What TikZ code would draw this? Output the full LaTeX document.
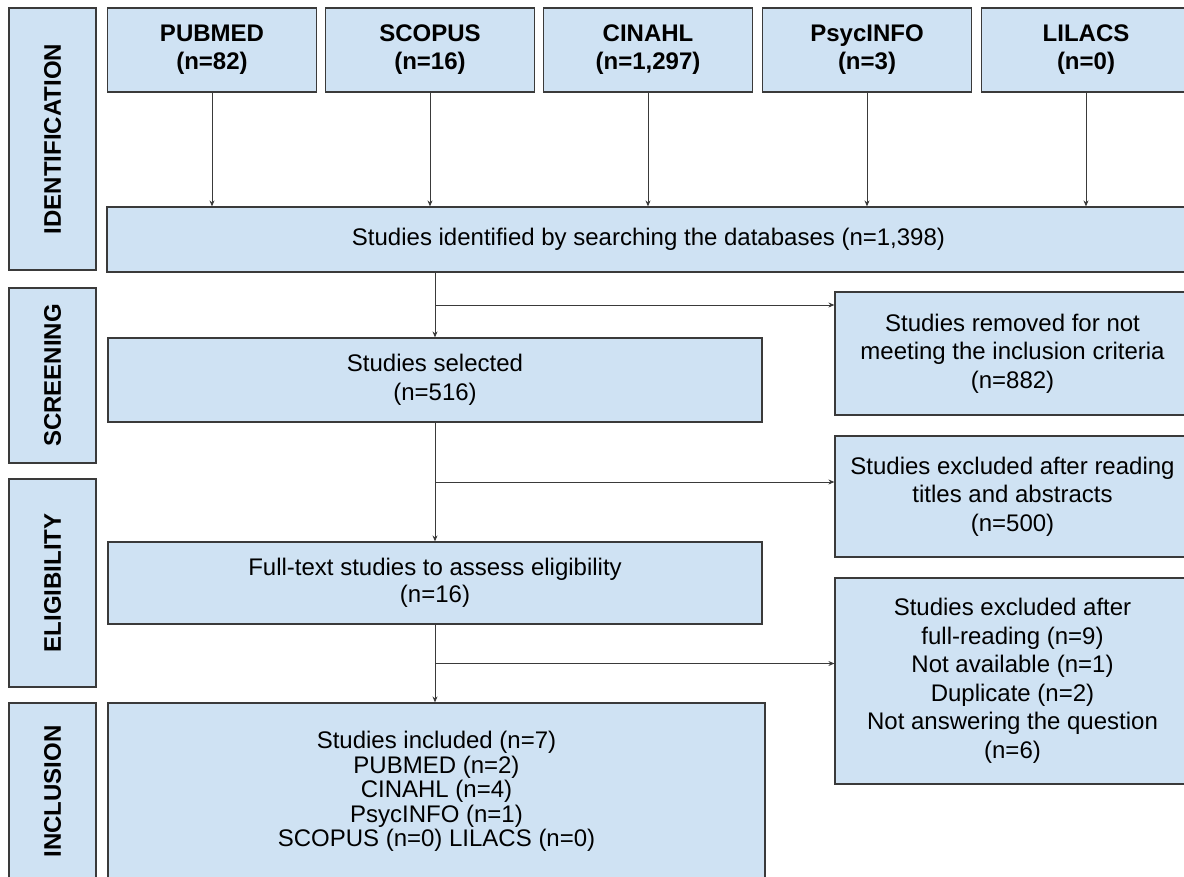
\documentclass[tikz,border=0pt]{standalone}
\usepackage{fontspec}
\setmainfont{Liberation Sans}
\usetikzlibrary{arrows.meta,calc}
\definecolor{boxblue}{HTML}{CFE2F3}
\definecolor{edge}{HTML}{3A3A3A}

\begin{document}
\begin{tikzpicture}[x=1pt, y=-1pt,
    every node/.style={align=center},
    box/.style={draw=edge, fill=boxblue, line width=1.2pt, inner sep=0pt,
        font=\fontsize{24}{28.5}\selectfont},
    dbbox/.style={box, minimum width=209pt, minimum height=84pt,
        font=\bfseries\fontsize{24}{28}\selectfont},
    phase/.style={box, rotate=90, minimum height=87pt,
        font=\bfseries\fontsize{24}{28}\selectfont},
    arr/.style={-{Stealth[length=6pt,width=5pt]}, draw=edge, line width=0.9pt}]
    \useasboundingbox (0,0) rectangle (1184,876);
    \clip (0,0) rectangle (1184,876);

    % phase labels on the left
    \node[phase, minimum width=262pt] (identPh) at (52.5,139) {IDENTIFICATION};
    \node[phase, minimum width=175pt] (screenPh) at (52.5,375.5) {SCREENING};
    \node[phase, minimum width=208pt] (eligPh) at (52.5,583) {ELIGIBILITY};
    \node[phase, minimum width=177pt] (inclPh) at (52.5,791.5) {INCLUSION};

    % databases
    \node[box, minimum width=1083pt, minimum height=65pt] (ident) at (648.5,239.5)
        {Studies identified by searching the databases (n=1,398)};
    \foreach \name/\lab/\n/\cx in {pubmed/PUBMED/82/212, scopus/SCOPUS/16/430,
            cinahl/CINAHL/{1,297}/648, psyc/PsycINFO/3/867, lilacs/LILACS/0/1086}{
        \node[dbbox] (\name) at (\cx,50) {\lab\\(n=\n)};
        \draw[arr] (\name.south) -- (\name.south |- ident.north);
    }

    % main column
    \node[box, minimum width=654pt, minimum height=84pt] (selected) at (435,380)
        {Studies selected\\(n=516)};
    \node[box, minimum width=654pt, minimum height=82pt,
        font=\fontsize{24}{27}\selectfont] (fulltext) at (435,583)
        {Full-text studies to assess eligibility\\(n=16)};
    \node[box, minimum width=657pt, minimum height=177pt,
        font=\fontsize{24}{24.5}\selectfont] (included) at (436.5,791.5)
        {Studies included (n=7)\\PUBMED (n=2)\\CINAHL (n=4)\\PsycINFO (n=1)\\SCOPUS (n=0) LILACS (n=0)};

    % exclusions
    \node[box, minimum width=355pt, minimum height=123pt] (removed) at (1012.5,353.5)
        {Studies removed for not\\meeting the inclusion criteria\\(n=882)};
    \node[box, minimum width=355pt, minimum height=121pt] (exclRead) at (1012.5,496.5)
        {Studies excluded after reading\\titles and abstracts\\(n=500)};
    \node[box, minimum width=355pt, minimum height=206pt] (exclFull) at (1012.5,681)
        {Studies excluded after\\full-reading (n=9)\\Not available (n=1)\\Duplicate (n=2)\\Not answering the question\\(n=6)};

    % flow
    \draw[arr] (ident.south -| selected) -- (selected.north);
    \coordinate (split1) at ($(ident.south -| selected)!0.5!(selected.north)$);
    \draw[arr] (split1) -- (split1 -| removed.west);
    \draw[arr] (selected.south) -- (fulltext.north);
    \coordinate (split2) at ($(selected.south)!0.5!(fulltext.north)$);
    \draw[arr] (split2) -- (split2 -| exclRead.west);
    \draw[arr] (fulltext.south) -- (fulltext.south |- included.north);
    \coordinate (split3) at ($(fulltext.south)!0.5!(fulltext.south |- included.north)$);
    \draw[arr] (split3) -- (split3 -| exclFull.west);
\end{tikzpicture}
\end{document}
